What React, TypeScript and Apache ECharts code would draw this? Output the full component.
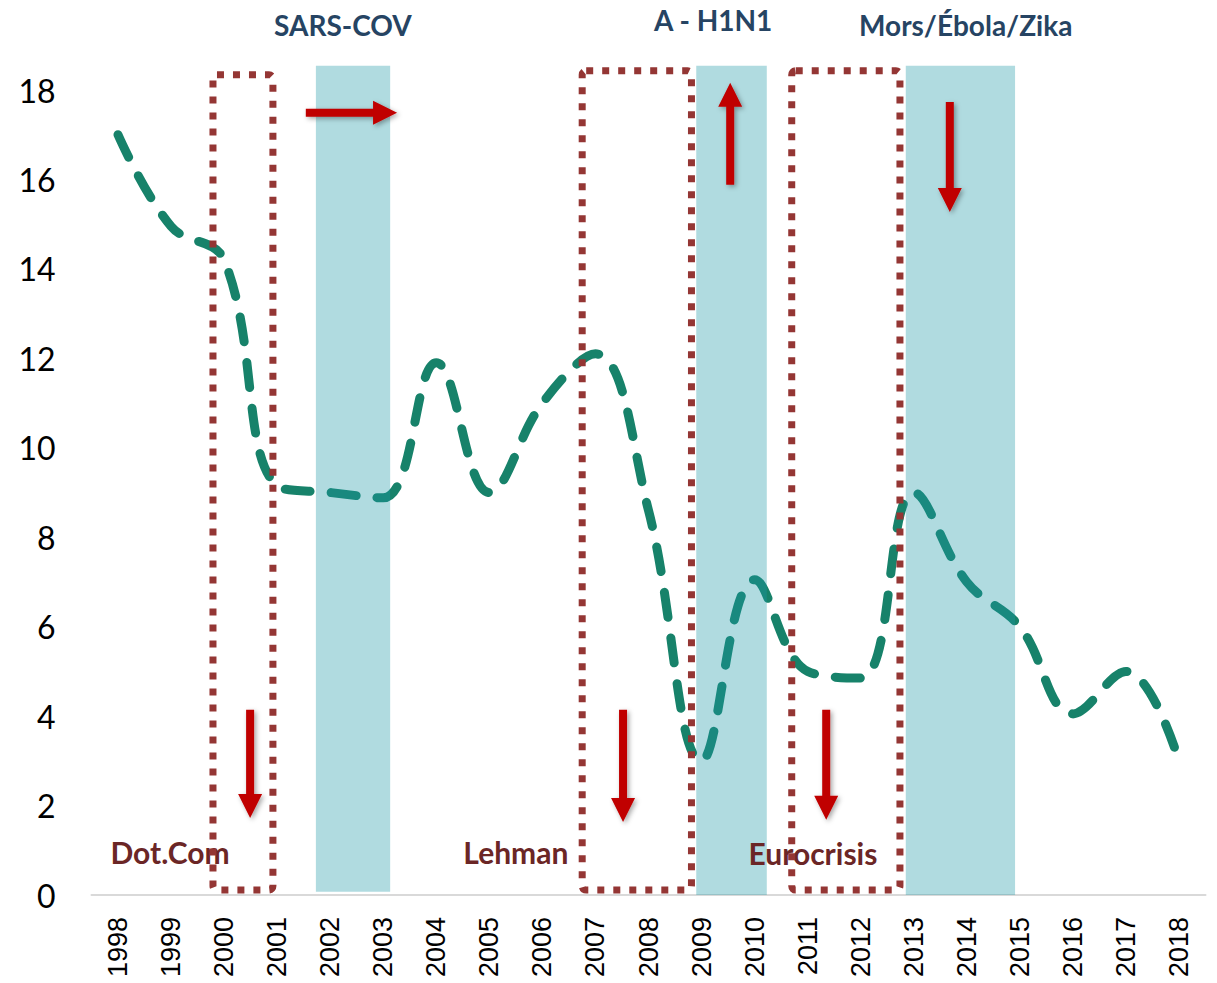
import React, { useEffect, useRef } from "react";
import * as echarts from "echarts";

// ---- data ----
const years = [
  "1998", "1999", "2000", "2001", "2002", "2003", "2004", "2005", "2006", "2007",
  "2008", "2009", "2010", "2011", "2012", "2013", "2014", "2015", "2016", "2017", "2018",
];
const values = [
  17.0, 14.95, 14.2, 9.15, 9.0, 8.88, 11.9, 9.0, 11.0, 12.1,
  8.6, 3.0, 7.05, 5.0, 4.85, 9.0, 7.0, 6.0, 4.05, 5.0, 3.0,
];
const yTicks = { min: 0, max: 18, interval: 2 };

// shaded periods [xStart, xEnd, yStart, yEnd] in category-index / value units
const bands = [
  [3.73, 5.13, 0.07, 18.54],
  [10.9, 12.23, 0, 18.54],
  [14.85, 16.91, 0, 18.54],
];
// dotted crisis boxes [xStart, xEnd, yStart, yEnd]
const boxes = [
  [1.79, 2.92, 0.11, 18.34],
  [8.75, 10.81, 0.11, 18.43],
  [12.7, 14.74, 0.11, 18.43],
];
// arrows [xFrom, yFrom, xTo, yTo]
const arrows = [
  [3.54, 17.49, 5.26, 17.49],
  [11.54, 15.88, 11.54, 18.16],
  [15.68, 17.73, 15.68, 15.27],
  [2.49, 4.14, 2.49, 1.72],
  [9.52, 4.14, 9.52, 1.63],
  [13.35, 4.14, 13.35, 1.68],
];
// epidemic labels (top) and crisis labels (bottom)
const epidemicNames = ["SARS-COV", "A - H1N1", "Mors/Ébola/Zika"];
const epidemicPos = [
  [4.24, 19.45],
  [11.22, 19.57],
  [15.98, 19.45],
];
const crisisNames = ["Dot.Com", "Lehman", "Eurocrisis"];
const crisisPos = [
  [0.98, 0.96],
  [7.5, 0.96],
  [13.1, 0.94],
];

export default function App() {
  const ref = useRef<HTMLDivElement>(null);

  useEffect(() => {
    if (!ref.current) return;
    const chart = echarts.init(ref.current, undefined, { renderer: "svg" });

    const rectFromData = (api: any) => {
      const p0 = api.coord([api.value(0), api.value(2)]);
      const p1 = api.coord([api.value(1), api.value(3)]);
      return {
        x: Math.min(p0[0], p1[0]),
        y: Math.min(p0[1], p1[1]),
        width: Math.abs(p1[0] - p0[0]),
        height: Math.abs(p1[1] - p0[1]),
      };
    };

    const textSeries = (names: string[], pos: number[][], font: string, color: string) => ({
      type: "custom",
      xAxisIndex: 1,
      z: 4,
      clip: false,
      data: pos,
      renderItem: (params: any, api: any) => {
        const p = api.coord([api.value(0), api.value(1)]);
        return {
          type: "text",
          style: {
            text: names[params.dataIndex],
            x: p[0],
            y: p[1],
            align: "center",
            verticalAlign: "middle",
            font,
            fill: color,
          },
        };
      },
    });

    const option: any = {
      animation: false,
      backgroundColor: "#ffffff",
      grid: { left: 91.5, right: 11.5, top: 90, bottom: 88, containLabel: false },
      xAxis: [
        {
          type: "category",
          data: years,
          boundaryGap: true,
          axisLine: { show: true, lineStyle: { color: "#d9d9d9", width: 2 } },
          axisTick: { show: false },
          axisLabel: {
            rotate: 90,
            margin: 22,
            color: "#000000",
            fontFamily: "Liberation Sans",
            fontSize: 27,
          },
          splitLine: { show: false },
        },
        {
          type: "value",
          min: -0.5,
          max: 20.5,
          show: false,
          splitLine: { show: false },
        },
      ],
      yAxis: {
        type: "value",
        min: yTicks.min,
        max: yTicks.max,
        interval: yTicks.interval,
        axisLine: { show: false },
        axisTick: { show: false },
        splitLine: { show: false },
        axisLabel: {
          margin: 36,
          color: "#000000",
          fontFamily: "Lato",
          fontSize: 32,
        },
      },
      series: [
        {
          type: "line",
          data: values,
          xAxisIndex: 0,
          smooth: 0.4,
          symbol: "none",
          z: 2,
          lineStyle: {
            color: "#17826a",
            width: 9,
            type: [25, 21],
            cap: "round",
          },
        },
        {
          type: "custom",
          xAxisIndex: 1,
          z: 3,
          clip: false,
          data: bands,
          renderItem: (params: any, api: any) => ({
            type: "rect",
            shape: rectFromData(api),
            style: { fill: "rgba(29,152,166,0.35)" },
          }),
        },
        textSeries(epidemicNames, epidemicPos, "bold 28px Lato", "#264463"),
        textSeries(crisisNames, crisisPos, "bold 30px Lato", "#6b2626"),
        {
          type: "custom",
          xAxisIndex: 1,
          z: 5,
          clip: false,
          data: boxes,
          renderItem: (params: any, api: any) => ({
            type: "rect",
            shape: { ...rectFromData(api), r: 4 },
            style: {
              fill: "none",
              stroke: "#943634",
              lineWidth: 7,
              lineDash: [7, 9],
            },
          }),
        },
        {
          type: "custom",
          xAxisIndex: 1,
          z: 6,
          clip: false,
          data: arrows,
          renderItem: (params: any, api: any) => {
            const s = api.coord([api.value(0), api.value(1)]);
            const t = api.coord([api.value(2), api.value(3)]);
            const dx = t[0] - s[0];
            const dy = t[1] - s[1];
            const len = Math.sqrt(dx * dx + dy * dy) || 1;
            const ux = dx / len;
            const uy = dy / len;
            const nx = -uy;
            const ny = ux;
            const headLen = 24;
            const sw = 4;
            const hw = 12;
            const bx = t[0] - ux * headLen;
            const by = t[1] - uy * headLen;
            const points = [
              [s[0] + nx * sw, s[1] + ny * sw],
              [bx + nx * sw, by + ny * sw],
              [bx + nx * hw, by + ny * hw],
              [t[0], t[1]],
              [bx - nx * hw, by - ny * hw],
              [bx - nx * sw, by - ny * sw],
              [s[0] - nx * sw, s[1] - ny * sw],
            ];
            return {
              type: "polygon",
              shape: { points },
              style: {
                fill: "#c00000",
                shadowBlur: 5,
                shadowColor: "rgba(0,0,0,0.35)",
                shadowOffsetX: 2,
                shadowOffsetY: 2,
              },
            };
          },
        },
      ],
    };

    chart.setOption(option);
    return () => chart.dispose();
  }, []);

  return (
    <div
      ref={ref}
      style={{ position: "absolute", left: 0, top: 0, width: 1217, height: 983 }}
    />
  );
}
